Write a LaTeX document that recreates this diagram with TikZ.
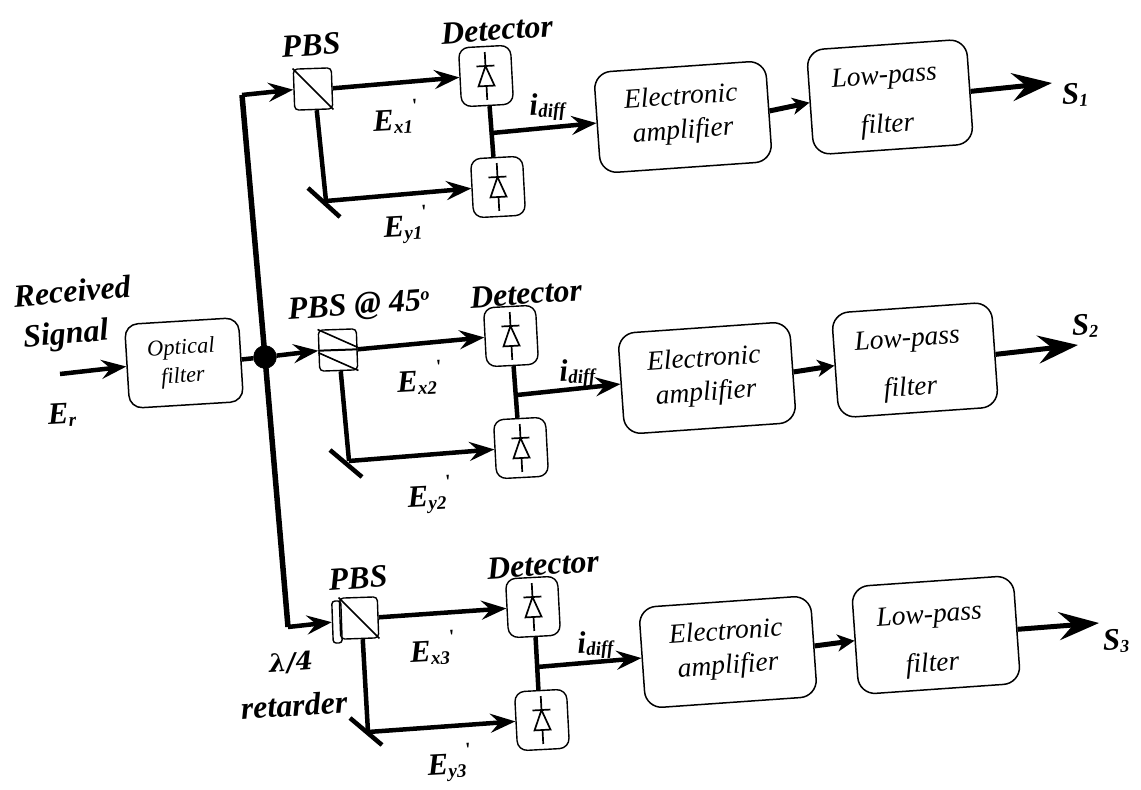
\documentclass[tikz,border=0pt]{standalone}
\usepackage{fontspec}
\setmainfont{Liberation Serif}
\usetikzlibrary{arrows.meta,calc}
\newcommand{\fieldlab}[1]{\textbf{\textit{E}}\raisebox{-3pt}{\fontsize{19}{19}\selectfont\textbf{\textit{#1}}}\rlap{\smash{\raisebox{17pt}{\fontsize{20}{20}\selectfont\textbf{\textquotesingle}}}}}
\newcommand{\idiff}{\textbf{\textit{i}}\raisebox{-3pt}{\fontsize{19}{19}\selectfont\textbf{\textit{diff}}}}
\newcommand{\outlab}[1]{\textbf{\textit{S}}\raisebox{-3pt}{\fontsize{18}{18}\selectfont\textbf{\textit{#1}}}}
\newcommand{\diodeat}[1]{%
  \begin{scope}[shift={(#1)},rotate=3,x=1pt,y=-1pt,line width=1.7pt]
    \draw (0,-24) -- (0,24);
    \draw (-9,-10) -- (9,-10);
    \draw[fill=white] (0,-10) -- (8,10) -- (-8,10) -- cycle;
  \end{scope}}
\tikzset{
  blockbox/.style={draw,line width=1.5pt,rounded corners=17pt,rotate=4,inner sep=0pt,minimum width=172pt,minimum height=101pt},
  lowbox/.style={draw,line width=1.5pt,rounded corners=17pt,rotate=4,inner sep=0pt,minimum width=160pt,minimum height=105pt},
  optbox/.style={draw,line width=1.5pt,rounded corners=13pt,rotate=3.5,inner sep=0pt,minimum width=114pt,minimum height=84pt},
  pbsbox/.style={draw,line width=1.4pt,rounded corners=4pt,rotate=2,inner sep=0pt,minimum width=38pt,minimum height=41pt},
  retbox/.style={draw,line width=1.4pt,rounded corners=3pt,rotate=2,inner sep=0pt,minimum width=9pt,minimum height=42pt},
  detbox/.style={draw,line width=1.4pt,rounded corners=10pt,rotate=3,inner sep=0pt,minimum width=52pt,minimum height=59pt},
  trunk/.style={line width=5.5pt,line join=miter},
  beam/.style={line width=4.5pt},
  beamarrow/.style={line width=4.5pt,-{Stealth[length=25pt,width=19pt,inset=9pt]}},
  shortarrow/.style={line width=5pt,-{Stealth[length=17pt,width=17pt,inset=5pt]}},
  bigarrow/.style={line width=5pt,-{Stealth[length=40pt,width=28pt,inset=14pt]}},
  thinsplit/.style={line width=1.6pt},
  blocktext/.style={font=\fontsize{27.5}{34}\selectfont\itshape,align=center,rotate=4,inner sep=0pt},
  opttext/.style={font=\fontsize{22.5}{24}\selectfont\itshape,rotate=4,inner sep=0pt},
  heading/.style={font=\fontsize{32}{34}\selectfont\bfseries\itshape,rotate=4,inner sep=0pt},
  fieldtext/.style={font=\fontsize{31}{33}\selectfont,rotate=3,inner sep=0pt},
  hubdot/.style={circle,fill=black,draw=black,minimum size=23pt,inner sep=0pt}
}
\begin{document}
\begin{tikzpicture}[x=1pt,y=-1pt]
\useasboundingbox (0,0) rectangle (1141,790);

% input section
\coordinate (inp) at (60,374);
\node[optbox] (opt) at (184,363) {};
\node[opttext] (optt1) at (181,349) {Optical};
\node[opttext] (optt2) at (183,377) {filter};
\node[heading,rotate=1] (recv) at (72,291) {Received};
\node[heading,rotate=1] (sig) at (66,336) {Signal};
\node[fieldtext] (er) at (62,415) {\textbf{\textit{E}}\raisebox{-3pt}{\fontsize{19}{19}\selectfont\textbf{\textit{r}}}};
\node[hubdot] (hub) at (265,357) {};
\draw[beamarrow] (inp) -- (opt.west);
\draw[beam] (opt.east) -- (hub);

% main trunk
\coordinate (top) at (242,95);
\coordinate (bot) at (288,627);
\draw[trunk] (top) -- (hub.center) -- (bot);

% branch 1
\node[pbsbox] (p1) at (313,89) {};
\node[heading] (t1) at (311,45) {PBS};
\node[heading] (t2) at (497,30) {Detector};
\node[detbox] (d1a) at (486,76) {};
\node[detbox] (d1b) at (498,187) {};
\coordinate (m1) at (326,201);
\coordinate (m1a) at (308,188);
\coordinate (m1b) at (340,217);
\coordinate (j1) at (492,133);
\draw[thinsplit] (p1.north west) -- (p1.south east);
\draw[beamarrow] (top) -- (p1.west);
\draw[beamarrow] (p1.east) -- (d1a.west);
\draw[beam] ($(p1.south)+(3,0)$) -- (m1);
\draw[beam] (m1a) -- (m1b);
\draw[beamarrow] (m1) -- (d1b.west);
\draw[beam] ($(d1a.south)+(2,0)$) -- ($(d1b.north)+(-3,0)$);
\diodeat{486,76}
\diodeat{498,187}
\node[fieldtext] (ex1) at (393,122) {\fieldlab{x1}};
\node[fieldtext] (ey1) at (403,230) {\fieldlab{y1}};
\node[fieldtext] (i1) at (548,107) {\idiff};
\node[blockbox] (a1) at (683,117) {};
\node[blocktext] (a1t) at (682,115) {Electronic\\amplifier};
\node[lowbox] (l1) at (890,97) {};
\node[blocktext] (l1t) at (886,102) {Low-pass\\[15pt]filter};
\draw[beamarrow] (j1) -- (a1.west);
\draw[shortarrow] (a1.east) -- (l1.west);
\coordinate (o1) at (1052,83);
\draw[bigarrow] (l1.east) -- (o1);
\node[fieldtext] (s1) at (1075,95) {\outlab{1}};

% branch 2
\node[pbsbox] (p2) at (338,350) {};
\node[heading] (t3) at (359,307) {PBS @ 45\raisebox{10pt}{\fontsize{18}{18}\selectfont o}};
\node[heading] (t4) at (526,294) {Detector};
\node[detbox] (d2a) at (511,336) {};
\node[detbox] (d2b) at (521,448) {};
\coordinate (m2) at (349,461);
\coordinate (m2a) at (330,450);
\coordinate (m2b) at (362,477);
\coordinate (j2) at (517,395);
\draw[thinsplit] (p2.north west) -- ($(p2.east)+(0,-2)$);
\draw[thinsplit] ($(p2.west)+(0,2)$) -- (p2.south east);
\draw[line width=2pt] (p2.west) -- (p2.east);
\draw[beamarrow] (hub) -- (p2.west);
\draw[beamarrow] (p2.east) -- (d2a.west);
\draw[beam] ($(p2.south)+(2,0)$) -- (m2);
\draw[beam] (m2a) -- (m2b);
\draw[beamarrow] (m2) -- (d2b.west);
\draw[beam] ($(d2a.south)+(1,0)$) -- ($(d2b.north)+(-2,0)$);
\diodeat{511,336}
\diodeat{521,448}
\node[fieldtext] (ex2) at (417,383) {\fieldlab{x2}};
\node[fieldtext] (ey2) at (427,500) {\fieldlab{y2}};
\node[fieldtext] (i2) at (578,373) {\idiff};
\node[blockbox] (a2) at (707,378) {};
\node[blocktext] (a2t) at (705,377) {Electronic\\amplifier};
\node[lowbox] (l2) at (915,360) {};
\node[blocktext] (l2t) at (909,365) {Low-pass\\[15pt]filter};
\draw[beamarrow] (j2) -- (a2.west);
\draw[shortarrow] (a2.east) -- (l2.west);
\coordinate (o2) at (1078,345);
\draw[bigarrow] (l2.east) -- (o2);
\node[fieldtext] (s2) at (1085,326) {\outlab{2}};

% branch 3
\node[pbsbox] (p3) at (359,618) {};
\node[retbox] (ret) at (337,622) {};
\node[heading] (t5) at (358,578) {PBS};
\node[heading] (t6) at (543,565) {Detector};
\node[detbox] (d3a) at (533,607) {};
\node[detbox] (d3b) at (542,720) {};
\coordinate (m3) at (368,732);
\coordinate (m3a) at (350,718);
\coordinate (m3b) at (382,745);
\coordinate (j3) at (537,667);
\draw[thinsplit] (p3.north west) -- (p3.south east);
\draw[beamarrow] (bot) -- (ret.west);
\draw[beamarrow] (p3.east) -- (d3a.west);
\draw[beam] ($(p3.south)+(3,0)$) -- (m3);
\draw[beam] (m3a) -- (m3b);
\draw[beamarrow] (m3) -- (d3b.west);
\draw[beam] ($(d3a.south)+(1,0)$) -- ($(d3b.north)+(-2,0)$);
\diodeat{533,607}
\diodeat{542,720}
\node[fieldtext] (ex3) at (430,653) {\fieldlab{x3}};
\node[fieldtext] (ey3) at (447,768) {\fieldlab{y3}};
\node[fieldtext] (i3) at (596,645) {\idiff};
\node[heading] (lam) at (291,663) {\fontspec{DejaVu Serif}\fontsize{25}{27}\selectfont λ/4};
\node[heading] (ret2) at (294,705) {retarder};
\node[blockbox] (a3) at (728,652) {};
\node[blocktext] (a3t) at (727,650) {Electronic\\amplifier};
\node[lowbox,minimum width=162pt,minimum height=108pt] (l3) at (936,635) {};
\node[blocktext] (l3t) at (931,641) {Low-pass\\[15pt]filter};
\draw[beamarrow] (j3) -- (a3.west);
\draw[shortarrow] (a3.east) -- (l3.west);
\coordinate (o3) at (1099,623);
\draw[bigarrow] (l3.east) -- (o3);
\node[fieldtext] (s3) at (1116,641) {\outlab{3}};
\end{tikzpicture}
\end{document}
